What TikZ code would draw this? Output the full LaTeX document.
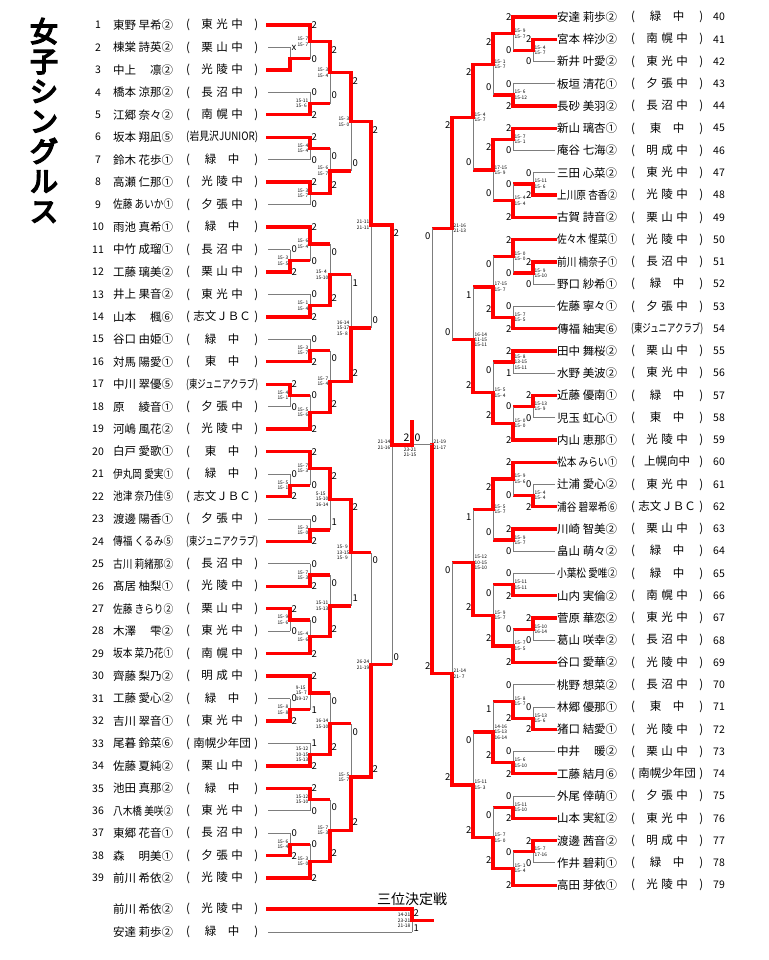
\documentclass[tikz,border=0pt]{standalone}
\usepackage{fontspec}
\usepackage{graphicx}
\setmainfont{Noto Sans CJK JP}
\usetikzlibrary{calc}

\definecolor{hit}{RGB}{255,0,0}
\definecolor{off}{RGB}{125,125,125}

% heavy title text: fill and stroke the glyphs
\newcommand\heavy[1]{\special{pdf:code 2 Tr 1.6 w}#1\special{pdf:code 0 Tr}}

% fixed-width name and school boxes
\newcommand\nme[1]{\sbox0{#1}\ifdim\wd0>60pt\resizebox{60pt}{\height}{#1}\else\makebox[60pt][s]{#1}\fi}
\newcommand\sch[1]{\spaceskip=3.5pt\sbox0{(#1)}\ifdim\wd0>72pt\resizebox{72pt}{\height}{(#1)}\else\makebox[72pt]{(\hfill#1\hfill)}\fi}

% one match: column, winner, loser, loser line, out, winner games, loser games, scores
\def\labsh{0pt}
\newcommand\game[8]{%
  \coordinate (#5) at ($(#2 -| #1)!.5!(#3 -| #1)$);
  \draw[#4] (#3) -- (#3 -| #1);
  \draw[lose] (#3 -| #1) -- (#5);
  \draw[win] (#2) -- (#2 -| #1) -- (#5);
  \node[cnt] at ($(#2 -| #1)!\labsh!(#5)$) {#6};
  \node[cnt] at ($(#3 -| #1)!\labsh!(#5)$) {#7};
  \node[score] at (#5) {#8};
}

\begin{document}
\begin{tikzpicture}[x=1pt, y=-1pt,
    win/.style={draw=hit, line width=3.3pt, line cap=rect},
    lred/.style={draw=hit, line width=3.3pt},
    lose/.style={draw=off, line width=0.8pt},
    txt/.style={inner sep=0pt, font=\fontsize{11.5}{12}\selectfont},
    num/.style={inner sep=0pt, font=\fontsize{10.5}{12}\selectfont},
    cnt/.style={inner sep=0pt, font=\fontsize{9.5}{10}\selectfont},
    score/.style={inner sep=0pt, align=left, font=\fontsize{4.8}{5.4}\selectfont}
]
\fill[white] (0,0) rectangle (768,960);
\useasboundingbox (0,0) rectangle (768,960);

% Columns
\coordinate (L0) at (290,0); \coordinate (L1) at (310,0); \coordinate (L2) at (330,0);
\coordinate (L3) at (351,0); \coordinate (L4) at (371,0); \coordinate (L5) at (392,0);
\coordinate (F) at (412,0);
\coordinate (R0) at (533,0); \coordinate (R1) at (513,0); \coordinate (R2) at (493,0);
\coordinate (R3) at (473,0); \coordinate (R4) at (452,0); \coordinate (R5) at (432,0);
\coordinate (xk) at (98,0); \coordinate (xn) at (113,0); \coordinate (xs) at (186,0);
\coordinate (xk2) at (713,0); \coordinate (xn2) at (557,0); \coordinate (xs2) at (631,0);

% Player line ends
\foreach \i in {1,...,39} \coordinate (p\i) at (268,{25+22.45*(\i-1)});
\foreach \i in {40,...,79} \coordinate (p\i) at (555,{17+22.26*(\i-40)});
\coordinate (t1) at (268,909);
\coordinate (t2) at (268,932);

% Title
\node[inner sep=0pt, anchor=north, align=center, font=\fontsize{28}{30}\selectfont] (title) at (44,18)
  {\heavy{女}\\\heavy{子}\\\heavy{シ}\\\heavy{ン}\\\heavy{グ}\\\heavy{ル}\\\heavy{ス}};

% Left players
\foreach \i/\n/\s in {1/東野 早希②/東 光 中, 2/棟棠 詩英②/栗 山 中, 3/中上 凛②/光 陵 中,
  4/橋本 涼那②/長 沼 中, 5/江郷 奈々②/南 幌 中, 6/坂本 翔凪⑤/岩見沢JUNIOR,
  7/鈴木 花歩①/緑　中, 8/高瀬 仁那①/光 陵 中, 9/佐藤 あいか①/夕 張 中,
  10/雨池 真希①/緑　中, 11/中竹 成瑠①/長 沼 中, 12/工藤 璃美②/栗 山 中,
  13/井上 果音②/東 光 中, 14/山本 楓⑥/志文ＪＢＣ, 15/谷口 由姫①/緑　中,
  16/対馬 陽愛①/東　中, 17/中川 翠優⑤/東ジュニアクラブ, 18/原 綾音①/夕 張 中,
  19/河嶋 風花②/光 陵 中, 20/白戸 愛歌①/東　中, 21/伊丸岡 愛実①/緑　中,
  22/池津 奈乃佳⑤/志文ＪＢＣ, 23/渡邊 陽香①/夕 張 中, 24/傳福 くるみ⑤/東ジュニアクラブ,
  25/古川 莉緒那②/長 沼 中, 26/髙居 柚梨①/光 陵 中, 27/佐藤 きらり②/栗 山 中,
  28/木澤 雫②/東 光 中, 29/坂本 菜乃花①/南 幌 中, 30/齊藤 梨乃②/明 成 中,
  31/工藤 愛心②/緑　中, 32/吉川 翠音①/東 光 中, 33/尾暮 鈴菜⑥/南幌少年団,
  34/佐藤 夏純②/栗 山 中, 35/池田 真那②/緑　中, 36/八木橋 美咲②/東 光 中,
  37/東郷 花音①/長 沼 中, 38/森 明美①/夕 張 中, 39/前川 希依②/光 陵 中}{
  \node[num] (k\i) at (p\i -| xk) {\i};
  \node[txt, anchor=west] (n\i) at (p\i -| xn) {\nme{\n}};
  \node[txt, anchor=west] (s\i) at (p\i -| xs) {\sch{\s}};
}

% Right players
\foreach \i/\n/\s in {40/安達 莉歩②/緑　中, 41/宮本 梓沙②/南 幌 中, 42/新井 叶愛②/東 光 中,
  43/板垣 清花①/夕 張 中, 44/長砂 美羽②/長 沼 中, 45/新山 璃杏①/東　中,
  46/庵谷 七海②/明 成 中, 47/三田 心菜②/東 光 中, 48/上川原 杏香②/光 陵 中,
  49/古賀 詩音②/栗 山 中, 50/佐々木 惺菜①/光 陵 中, 51/前川 楠奈子①/長 沼 中,
  52/野口 紗希①/緑　中, 53/佐藤 寧々①/夕 張 中, 54/傳福 紬実⑥/東ジュニアクラブ,
  55/田中 舞桜②/栗 山 中, 56/水野 美波②/東 光 中, 57/近藤 優南①/緑　中,
  58/児玉 虹心①/東　中, 59/内山 恵那①/光 陵 中, 60/松本 みらい①/上幌向中,
  61/辻浦 愛心②/東 光 中, 62/浦谷 碧翠希⑥/志文ＪＢＣ, 63/川崎 智美②/栗 山 中,
  64/畠山 萌々②/緑　中, 65/小葉松 愛唯②/緑　中, 66/山内 実倫②/南 幌 中,
  67/菅原 華恋②/東 光 中, 68/葛山 咲幸②/長 沼 中, 69/谷口 愛華②/光 陵 中,
  70/桃野 想菜②/長 沼 中, 71/林郷 優那①/東　中, 72/猪口 結愛①/光 陵 中,
  73/中井 暖②/栗 山 中, 74/工藤 結月⑥/南幌少年団, 75/外尾 倖萌①/夕 張 中,
  76/山本 実紅②/東 光 中, 77/渡邊 茜音②/明 成 中, 78/作井 碧莉①/緑　中,
  79/高田 芽依①/光 陵 中}{
  \node[num, anchor=west] (k\i) at (p\i -| xk2) {\i};
  \node[txt, anchor=west] (n\i) at (p\i -| xn2) {\nme{\n}};
  \node[txt, anchor=west] (s\i) at (p\i -| xs2) {\sch{\s}};
}

% Left bracket
\begin{scope}[cnt/.append style={anchor=west, xshift=1.5pt}, score/.append style={anchor=east, xshift=-1.5pt}]
\def\labsh{0pt}
\game{L0}{p3}{p2}{lose}{a3}{}{x}{}
\game{L0}{p12}{p11}{lose}{a12}{2}{0}{15- 3\\15- 5}
\game{L0}{p17}{p18}{lose}{a17}{2}{0}{15- 4\\15- 1}
\game{L0}{p22}{p21}{lose}{a22}{2}{0}{15- 5\\15- 1}
\game{L0}{p27}{p28}{lose}{a27}{2}{0}{15- 9\\15- 6}
\game{L0}{p32}{p31}{lose}{a32}{2}{0}{15- 8\\15- 8}
\game{L0}{p38}{p37}{lose}{a38}{2}{0}{15- 6\\15- 4}
\game{L1}{p1}{a3}{lred}{b1}{2}{0}{15- 7\\15- 7}
\game{L1}{p5}{p4}{lose}{b5}{2}{0}{15-11\\15- 6}
\game{L1}{p6}{p7}{lose}{b6}{2}{0}{15- 4\\15- 4}
\game{L1}{p8}{p9}{lose}{b8}{2}{0}{15- 3\\15- 7}
\game{L1}{p10}{a12}{lred}{b10}{2}{0}{15- 6\\15- 4}
\game{L1}{p14}{p13}{lose}{b14}{2}{0}{15- 1\\15- 4}
\game{L1}{p16}{p15}{lose}{b16}{2}{0}{15- 3\\15- 7}
\game{L1}{p19}{a17}{lred}{b19}{2}{0}{15- 5\\15- 6}
\game{L1}{p20}{a22}{lred}{b20}{2}{0}{15- 7\\15- 3}
\game{L1}{p24}{p23}{lose}{b24}{2}{0}{15- 3\\15- 0}
\game{L1}{p26}{p25}{lose}{b26}{2}{0}{15- 7\\15- 3}
\game{L1}{p29}{a27}{lred}{b29}{2}{0}{15- 4\\15- 6}
\game{L1}{p30}{a32}{lred}{b30}{2}{1}{9-15\\15- 7\\19-17}
\game{L1}{p34}{p33}{lose}{b34}{2}{1}{15-12\\10-15\\15-13}
\game{L1}{p35}{p36}{lose}{b35}{2}{0}{15-12\\15-10}
\game{L1}{p39}{a38}{lred}{b39}{2}{0}{15- 3\\15- 0}
\def\labsh{8pt}
\game{L2}{b1}{b5}{lred}{c1}{2}{0}{15- 3\\15- 4}
\game{L2}{b8}{b6}{lred}{c8}{2}{0}{15- 6\\15- 7}
\game{L2}{b14}{b10}{lred}{c14}{2}{0}{15- 4\\15-10}
\game{L2}{b19}{b16}{lred}{c19}{2}{0}{15- 7\\15- 4}
\game{L2}{b20}{b24}{lred}{c20}{2}{1}{5-15\\15-10\\16-14}
\game{L2}{b29}{b26}{lred}{c29}{2}{0}{15-11\\15-13}
\game{L2}{b34}{b30}{lred}{c34}{2}{0}{16-14\\15-10}
\game{L2}{b39}{b35}{lred}{c39}{2}{0}{15- 7\\15- 3}
\game{L3}{c1}{c8}{lred}{d1}{2}{0}{15- 3\\15- 0}
\game{L3}{c19}{c14}{lred}{d19}{2}{1}{16-14\\15-17\\15- 8}
\game{L3}{c20}{c29}{lred}{d20}{2}{1}{15- 9\\13-15\\15- 9}
\game{L3}{c39}{c34}{lred}{d39}{2}{0}{15- 5\\15- 7}
\game{L4}{d1}{d19}{lred}{e1}{2}{0}{21-11\\21-11}
\game{L4}{d39}{d20}{lred}{e39}{2}{0}{26-24\\21-19}
\game{L5}{e1}{e39}{lred}{f1}{2}{0}{21-14\\21-16}
% third place
\def\labsh{4pt}
\game{F}{t1}{t2}{lose}{t3}{2}{1}{14-21\\23-21\\21-18}
\end{scope}

% Right bracket
\begin{scope}[cnt/.append style={anchor=east, xshift=-1.5pt}, score/.append style={anchor=west, xshift=1.5pt}]
\def\labsh{0pt}
\game{R0}{p41}{p42}{lose}{a41}{2}{0}{15- 4\\15- 7}
\game{R0}{p48}{p47}{lose}{a48}{2}{0}{15-11\\15- 6}
\game{R0}{p51}{p52}{lose}{a51}{2}{0}{15- 9\\15-10}
\game{R0}{p57}{p58}{lose}{a57}{2}{0}{15-13\\15- 9}
\game{R0}{p62}{p61}{lose}{a62}{2}{0}{15- 4\\15- 4}
\game{R0}{p67}{p68}{lose}{a67}{2}{0}{15-10\\16-14}
\game{R0}{p72}{p71}{lose}{a72}{2}{0}{15-13\\15- 6}
\game{R0}{p77}{p78}{lose}{a77}{2}{0}{15- 7\\17-16}
\game{R1}{p40}{a41}{lred}{b40}{2}{0}{15- 9\\15- 7}
\game{R1}{p44}{p43}{lose}{b44}{2}{0}{15- 6\\15-12}
\game{R1}{p45}{p46}{lose}{b45}{2}{0}{15- 7\\15- 1}
\game{R1}{p49}{a48}{lred}{b49}{2}{0}{15- 4\\15- 4}
\game{R1}{p50}{a51}{lred}{b50}{2}{0}{15- 0\\15- 0}
\game{R1}{p54}{p53}{lose}{b54}{2}{0}{15- 7\\15- 5}
\game{R1}{p55}{p56}{lose}{b55}{2}{1}{15- 8\\13-15\\15-11}
\game{R1}{p59}{a57}{lred}{b59}{2}{0}{15- 0\\15- 0}
\game{R1}{p60}{a62}{lred}{b60}{2}{0}{15- 9\\15- 6}
\game{R1}{p63}{p64}{lose}{b63}{2}{0}{15- 9\\15- 7}
\game{R1}{p66}{p65}{lose}{b66}{2}{0}{15-11\\15-11}
\game{R1}{p69}{a67}{lred}{b69}{2}{0}{15- 7\\15- 5}
\game{R1}{a72}{p70}{lose}{b72}{2}{0}{15- 8\\15- 7}
\game{R1}{p74}{p73}{lose}{b74}{2}{0}{15- 6\\15-10}
\game{R1}{p76}{p75}{lose}{b76}{2}{0}{15-11\\15-10}
\game{R1}{p79}{a77}{lred}{b79}{2}{0}{15- 1\\15- 4}
\def\labsh{8pt}
\game{R2}{b40}{b44}{lred}{c40}{2}{0}{15- 1\\15- 7}
\game{R2}{b45}{b49}{lred}{c45}{2}{0}{17-15\\15- 9}
\game{R2}{b54}{b50}{lred}{c54}{2}{0}{17-15\\15- 7}
\game{R2}{b59}{b55}{lred}{c59}{2}{0}{15- 5\\15- 4}
\game{R2}{b60}{b63}{lred}{c60}{2}{0}{15- 5\\15- 7}
\game{R2}{b69}{b66}{lred}{c69}{2}{0}{15- 9\\15- 7}
\game{R2}{b74}{b72}{lred}{c74}{2}{1}{14-16\\15-13\\16-14}
\game{R2}{b79}{b76}{lred}{c79}{2}{0}{15- 7\\15- 0}
\game{R3}{c40}{c45}{lred}{d40}{2}{0}{15- 4\\15- 7}
\game{R3}{c59}{c54}{lred}{d59}{2}{1}{16-14\\11-15\\15-11}
\game{R3}{c69}{c60}{lred}{d69}{2}{1}{15-12\\10-15\\15-10}
\game{R3}{c79}{c74}{lred}{d79}{2}{0}{15-11\\15- 3}
\game{R4}{d40}{d59}{lred}{e40}{2}{0}{21-16\\21-13}
\game{R4}{d79}{d69}{lred}{e79}{2}{0}{21-14\\21- 7}
% semifinal, led into the final line
\coordinate (fin) at (f1 -| F);
\coordinate (fR) at (fin -| R5);
\draw[lred] (e40) -- (e40 -| R5);
\draw[lose] (e40 -| R5) -- (fR);
\draw[win] (e79) -- (e79 -| R5) -- (fR);
\node[cnt] at ($(e40 -| R5)+(0,8)$) {0};
\node[cnt] at ($(e79 -| R5)+(0,-8)$) {2};
\node[score] at (fR) {21-19\\21-17};
\end{scope}

% Final
\coordinate (champ) at ($(fin)+(0,-23)$);
\draw[lose] (fR) -- (fin);
\draw[win] (f1) -- (fin) -- (champ);
\node[cnt, font=\fontsize{10.5}{11}\selectfont] (fw) at ($(fin)+(-5.5,-7.5)$) {2};
\node[cnt, font=\fontsize{10.5}{11}\selectfont] (fl) at ($(fin)+(5.5,-7.5)$) {0};
\node[score, anchor=north] (fs) at ($(fin)+(-2,2.5)$) {23-21\\21-15};

% Third place
\draw[win] (t3) -- (t3 -| R5);
\node[inner sep=0pt, font=\fontsize{14}{14}\selectfont] (ttl) at (412,899) {三位決定戦};
\node[txt, anchor=west] (na) at (t1 -| xn) {\nme{前川 希依②}};
\node[txt, anchor=west] (sa) at (t1 -| xs) {\sch{光 陵 中}};
\node[txt, anchor=west] (nb) at (t2 -| xn) {\nme{安達 莉歩②}};
\node[txt, anchor=west] (sb) at (t2 -| xs) {\sch{緑　中}};
\end{tikzpicture}
\end{document}
